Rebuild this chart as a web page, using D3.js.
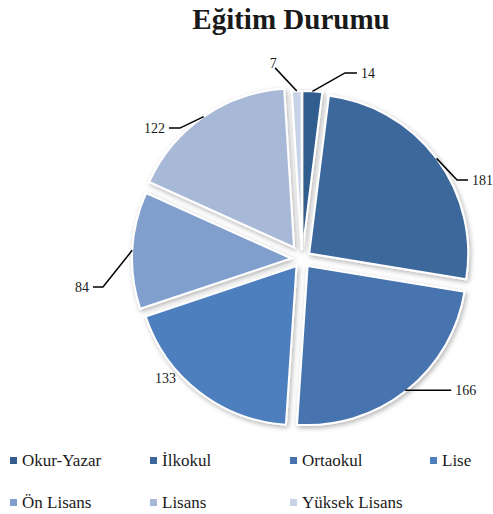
<!DOCTYPE html>
<html>
<head>
<meta charset="utf-8">
<script src="https://cdn.jsdelivr.net/npm/d3@7"></script>
<style>
  body { margin: 0; background: #fff; }
  svg text { font-family: "Liberation Serif", "DejaVu Serif", serif; fill: #1a1a1a; }
</style>
</head>
<body>
<div class="container"></div>
<script>
var categories = ["Okur-Yazar", "İlkokul", "Ortaokul", "Lise", "Ön Lisans", "Lisans", "Yüksek Lisans"];
var values = [14, 181, 166, 133, 84, 122, 7];
var colors = ["#335d8f", "#3c679c", "#4673ae", "#4d7ebd", "#809fcc", "#a8b9d7", "#c8d3e7"];

// how far each slice is pulled out of the pie
var explodeBy = [9, 9, 9, 9, 11, 14, 9];

// label placement: elbow angle (deg), elbow radius, horizontal leader length, mode
var labelLayout = [
  [13.0, 191, 12, "line"],
  [63.0, 174, 11, "line"],
  [141.8, 167, 46, "line"],
  [229, 181, 0, "free"],
  [262, 201, 10, "line"],
  [317, 179, 11, "line"],
  [352, 193, 0, "top"]
];

var width = 493;
var height = 514;
var cx = 302;
var cy = 259;
var radius = 159;
var serif = '"Liberation Serif", "DejaVu Serif", serif';

var svg = d3
  .select(".container")
  .append("svg")
  .attr("width", width)
  .attr("height", height);

var defs = svg.append("defs");
var filter = defs.append("filter").attr("id", "shadow")
  .attr("x", "-20%").attr("y", "-20%").attr("width", "140%").attr("height", "140%");
filter.append("feDropShadow")
  .attr("dx", 1.5).attr("dy", 2)
  .attr("stdDeviation", 2.5)
  .attr("flood-color", "#000")
  .attr("flood-opacity", 0.3);

// title
svg.append("text")
  .attr("x", 291)
  .attr("y", 29)
  .attr("text-anchor", "middle")
  .style("font-family", serif)
  .style("font-size", "29px")
  .style("font-weight", "bold")
  .text("Eğitim Durumu");

function polar(a, r) {
  return [cx + r * Math.sin(a), cy - r * Math.cos(a)];
}

var pie = d3.pie().sort(null).value(function (d) { return d; });
var arcs = pie(values);
var arc = d3.arc().innerRadius(0).outerRadius(radius);

var g = svg.append("g").attr("transform", `translate(${cx},${cy})`);

g.selectAll("path.slice")
  .data(arcs)
  .enter()
  .append("path")
  .attr("class", "slice")
  .attr("d", arc)
  .attr("transform", function (d, i) {
    var mid = (d.startAngle + d.endAngle) / 2;
    var e = explodeBy[i];
    return `translate(${e * Math.sin(mid)},${-e * Math.cos(mid)})`;
  })
  .style("fill", function (d, i) { return colors[i]; })
  .style("stroke", "#fff")
  .style("stroke-width", 2)
  .style("filter", "url(#shadow)");

// data labels with leader lines
arcs.forEach(function (d, i) {
  var mid = (d.startAngle + d.endAngle) / 2;
  var lay = labelLayout[i];
  var ang = lay[0] * Math.PI / 180;
  var elbow = polar(ang, lay[1]);
  var label = String(values[i]);

  if (lay[3] === "free") {
    svg.append("text")
      .attr("x", elbow[0])
      .attr("y", elbow[1])
      .attr("dy", "0.35em")
      .attr("text-anchor", "middle")
      .style("font-family", serif)
      .style("font-size", "14px")
      .text(label);
    return;
  }

  var start = polar(mid, radius + explodeBy[i]);
  var right = Math.sin(ang) >= 0;
  var end = [elbow[0] + (right ? lay[2] : -lay[2]), elbow[1]];

  svg.append("polyline")
    .attr("points", [start, elbow, end].map(function (p) { return p.join(","); }).join(" "))
    .style("fill", "none")
    .style("stroke", "#000")
    .style("stroke-width", 1.5);

  if (lay[3] === "top") {
    svg.append("text")
      .attr("x", elbow[0] - 2)
      .attr("y", elbow[1])
      .attr("text-anchor", "middle")
      .style("font-family", serif)
      .style("font-size", "14px")
      .text(label);
  } else {
    svg.append("text")
      .attr("x", end[0] + (right ? 4 : -4))
      .attr("y", end[1])
      .attr("dy", "0.35em")
      .attr("text-anchor", right ? "start" : "end")
      .style("font-family", serif)
      .style("font-size", "14px")
      .text(label);
  }
});

// legend
var legend = svg.selectAll("g.legend")
  .data(categories)
  .enter()
  .append("g")
  .attr("class", "legend")
  .attr("transform", function (d, i) {
    return `translate(${10 + (i % 4) * 140},${461 + Math.floor(i / 4) * 42})`;
  });

legend.append("rect")
  .attr("x", 0)
  .attr("y", -4)
  .attr("width", 7)
  .attr("height", 7)
  .style("fill", function (d, i) { return colors[i]; });

legend.append("text")
  .attr("x", 12)
  .attr("y", 5)
  .style("font-family", serif)
  .style("font-size", "17px")
  .text(function (d) { return d; });
</script>
</body>
</html>
